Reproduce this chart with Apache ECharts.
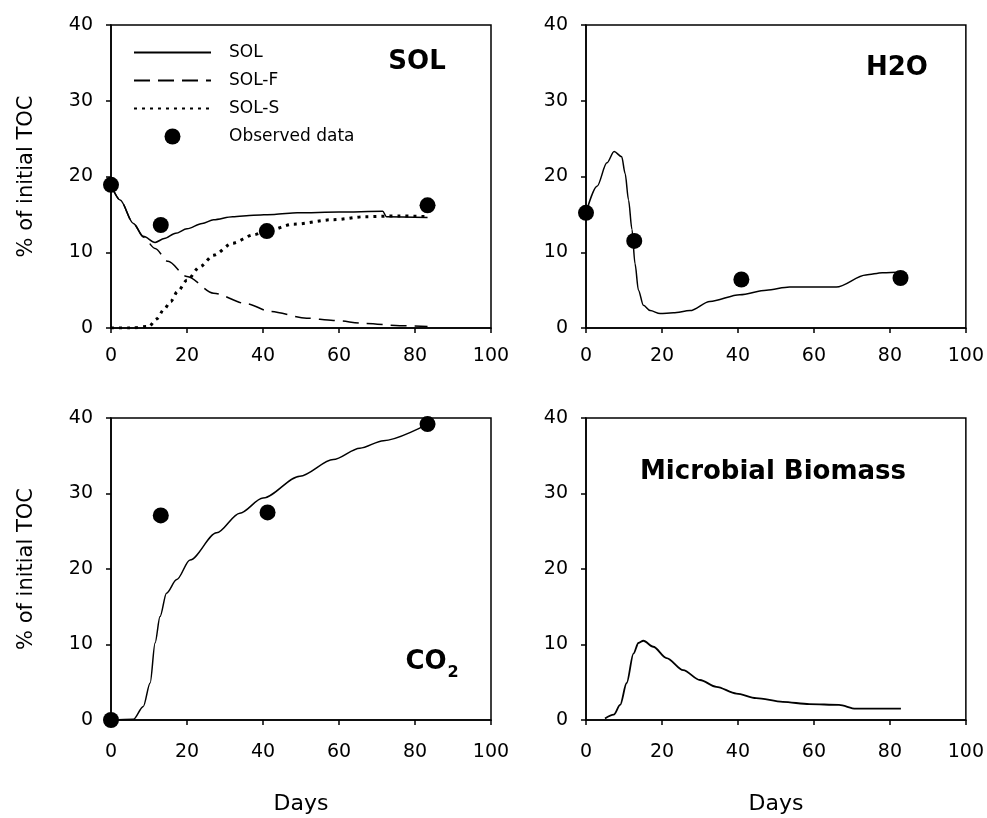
<!DOCTYPE html>
<html>
<head>
<meta charset="utf-8">
<script src="https://cdn.jsdelivr.net/npm/echarts@6/dist/echarts.min.js"></script>
<style>
  html, body { margin: 0; padding: 0; background: #fff; }
  #chart { width: 987px; height: 818px; }
</style>
</head>
<body>
<div id="chart"></div>
<script>
// SOL panel (top left)
const solDays = [0, 2.4, 5.9, 8.5, 11.6, 14, 17, 20, 24, 27, 32, 37.5, 43, 49, 60, 71.5, 72.5, 83.3];
const solTotal = [18.9, 16.9, 13.8, 12.1, 11.3, 11.8, 12.5, 13.1, 13.8, 14.3, 14.7, 14.9, 15.0, 15.2, 15.3, 15.4, 14.7, 14.6];
const solFDays = [0, 2.4, 5.9, 8.5, 11.6, 15, 20, 27, 35.7, 41.8, 51.5, 58.5, 67, 76, 83.3];
const solF = [18.9, 16.9, 13.8, 12.0, 10.5, 8.8, 6.8, 4.6, 3.2, 2.2, 1.3, 1.0, 0.6, 0.3, 0.2];
const solSDays = [0, 5, 10, 12, 14, 15.7, 17.5, 20, 23.4, 27, 32, 37.5, 41, 48, 58.5, 67, 76, 83.3];
const solS = [0, 0, 0.2, 1.2, 2.5, 3.5, 4.8, 6.3, 8.1, 9.6, 11.2, 12.3, 12.8, 13.7, 14.3, 14.7, 14.8, 14.7];
const solObsDays = [0, 13.1, 41, 83.3];
const solObs = [18.9, 13.6, 12.8, 16.2];

// H2O panel (top right)
const h2oDays = [0, 2.9, 5.5, 7.4, 9.4, 10.3, 11.2, 12.1, 12.9, 13.8, 15.1, 16.9, 19.5, 23, 27.4, 32.6, 40.5, 47.5, 53.6, 65.9, 73.7, 78, 83.8];
const h2oModel = [15.2, 18.7, 21.8, 23.3, 22.6, 20.4, 16.9, 13, 8.5, 5, 3, 2.3, 1.9, 2.0, 2.3, 3.5, 4.4, 5.0, 5.4, 5.4, 7.0, 7.3, 7.4];
const h2oObsDays = [0, 12.7, 40.9, 82.8];
const h2oObs = [15.2, 11.5, 6.4, 6.6];

// CO2 panel (bottom left)
const co2Days = [0, 5.9, 8.5, 10.3, 11.6, 12.9, 14.6, 17.3, 20.8, 27.8, 33.9, 40, 49.7, 58.5, 65.5, 71.7, 83.3];
const co2Model = [0, 0.1, 1.8, 4.9, 10.2, 13.7, 16.8, 18.6, 21.2, 24.8, 27.4, 29.4, 32.3, 34.5, 36, 37, 39.2];
const co2ObsDays = [0, 13.1, 41.2, 83.3];
const co2Obs = [0, 27.1, 27.5, 39.2];

// Microbial biomass panel (bottom right)
const bioDays = [5, 7.3, 9, 10.7, 12.5, 13.8, 15.1, 17.7, 21.2, 25.6, 30, 34.3, 39.6, 44.8, 51.8, 58.8, 66.6, 71, 82.9];
const bioModel = [0.2, 0.7, 2, 4.9, 8.8, 10.2, 10.5, 9.7, 8.2, 6.6, 5.3, 4.4, 3.5, 2.9, 2.4, 2.1, 2.0, 1.5, 1.5];

const lineNames = ['SOL', 'SOL-F', 'SOL-S'];
const font = 'DejaVu Sans';

function zip(xs, ys) {
  return xs.map((x, i) => [x, ys[i]]);
}

const grids = [
  { left: 111, top: 25, width: 380, height: 303 },
  { left: 586, top: 25, width: 381, height: 303 },
  { left: 111, top: 418, width: 380, height: 302 },
  { left: 586, top: 418, width: 381, height: 302 }
];

const axisLine = { show: true, lineStyle: { color: '#000', width: 1.5 } };
const axisTick = { show: true, inside: false, length: 5, lineStyle: { color: '#000', width: 1.5 } };

const xAxes = grids.map((g, i) => ({
  type: 'value', gridIndex: i, min: 0, max: 100, interval: 20,
  axisLine: axisLine, axisTick: axisTick, splitLine: { show: false },
  axisLabel: { color: '#000', fontSize: 19, fontFamily: font, margin: i < 2 ? 19 : 23 },
  name: i >= 2 ? 'Days' : '', nameLocation: 'middle', nameGap: 73,
  nameTextStyle: { color: '#000', fontSize: 22, fontFamily: font }
}));

const yAxes = grids.map((g, i) => ({
  type: 'value', gridIndex: i, min: 0, max: 40, interval: 10,
  axisLine: axisLine, axisTick: axisTick, splitLine: { show: false },
  axisLabel: { color: '#000', fontSize: 19, fontFamily: font, margin: 18 },
  name: i % 2 === 0 ? '% of initial TOC' : '', nameLocation: 'middle', nameGap: 74,
  nameTextStyle: { color: '#000', fontSize: 21, fontFamily: font }
}));

function modelLine(name, idx, xs, ys, type, width) {
  return {
    name: name, type: 'line', xAxisIndex: idx, yAxisIndex: idx,
    data: zip(xs, ys), symbol: 'none', smooth: 0.3, smoothMonotone: 'x',
    lineStyle: { color: '#000', width: width || 1.5, type: type || 'solid' },
    itemStyle: { color: '#000', opacity: 0 }, z: 3
  };
}

function observed(idx, xs, ys) {
  return {
    name: 'Observed data', type: 'scatter', xAxisIndex: idx, yAxisIndex: idx,
    data: zip(xs, ys), symbol: 'circle', symbolSize: 16,
    itemStyle: { color: '#000', opacity: 1 }, z: 4
  };
}

const legendData = lineNames.map(n => ({ name: n, itemStyle: { opacity: 0 } }))
  .concat([{ name: 'Observed data', icon: 'circle', itemStyle: { color: '#000', opacity: 1 } }]);

const chart = echarts.init(document.getElementById('chart'));

const option = {
  backgroundColor: '#fff',
  animation: false,
  textStyle: { fontFamily: font },
  grid: grids.map(g => Object.assign({ show: true, borderColor: '#000', borderWidth: 1.5 }, g)),
  xAxis: xAxes,
  yAxis: yAxes,
  legend: {
    data: legendData, orient: 'vertical', left: 133, top: 44, padding: 0,
    itemWidth: 77, itemHeight: 16, itemGap: 11, selectedMode: false,
    textStyle: { color: '#000', fontSize: 17, fontFamily: font, padding: [0, 0, 0, 13] }
  },
  series: [
    modelLine('SOL', 0, solDays, solTotal, 'solid', 1.5),
    modelLine('SOL-F', 0, solFDays, solF, [16, 8], 1.5),
    modelLine('SOL-S', 0, solSDays, solS, [3, 5], 3),
    observed(0, solObsDays, solObs),
    modelLine('H2O', 1, h2oDays, h2oModel, 'solid', 1.5),
    observed(1, h2oObsDays, h2oObs),
    modelLine('CO2', 2, co2Days, co2Model, 'solid', 1.5),
    observed(2, co2ObsDays, co2Obs),
    modelLine('Microbial Biomass', 3, bioDays, bioModel, 'solid', 1.8)
  ],
  graphic: [
    { type: 'text', x: 417, y: 62, style: { text: 'SOL', font: 'bold 26px "DejaVu Sans"', fill: '#000', textAlign: 'center', textVerticalAlign: 'middle' } },
    { type: 'text', x: 897, y: 68, style: { text: 'H2O', font: 'bold 26px "DejaVu Sans"', fill: '#000', textAlign: 'center', textVerticalAlign: 'middle' } },
    { type: 'text', x: 773, y: 472, style: { text: 'Microbial Biomass', font: 'bold 26px "DejaVu Sans"', fill: '#000', textAlign: 'center', textVerticalAlign: 'middle' } },
    { type: 'text', x: 426, y: 662, style: { text: 'CO', font: 'bold 26px "DejaVu Sans"', fill: '#000', textAlign: 'center', textVerticalAlign: 'middle' } },
    { type: 'text', x: 453, y: 673, style: { text: '2', font: 'bold 16px "DejaVu Sans"', fill: '#000', textAlign: 'center', textVerticalAlign: 'middle' } }
  ]
};

chart.setOption(option);
</script>
</body>
</html>
